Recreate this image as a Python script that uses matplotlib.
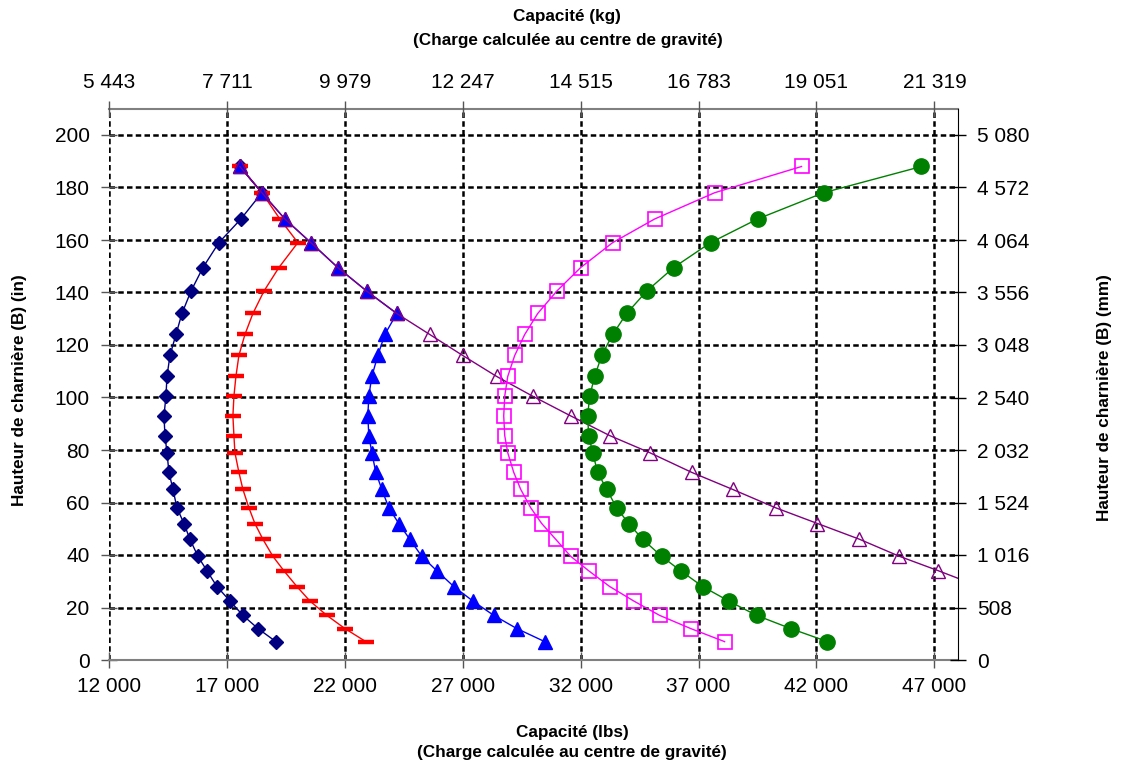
import matplotlib.pyplot as plt
import numpy as np

plt.rcParams["font.family"] = ["Liberation Sans", "DejaVu Sans"]

# hinge height (in), same for every curve
hauteur = [7, 12, 17, 22.5, 28, 34, 39.5, 46, 52, 58, 65, 71.5, 79, 85.5, 93,
           100.5, 108, 116, 124, 132, 140.5, 149.5, 159, 168, 178, 188]

# capacities (lbs) per curve, bottom to top
cap_navy = [19076, 18314, 17678, 17127, 16576, 16153, 15771, 15432, 15178, 14881,
            14712, 14542, 14458, 14373, 14331, 14415, 14458, 14585, 14839, 15093,
            15475, 15983, 16661, 17593, 18483, 17551]
cap_red = [22890, 22000, 21237, 20517, 19966, 19415, 18949, 18525, 18186, 17932,
           17678, 17508, 17339, 17297, 17254, 17297, 17381, 17508, 17763, 18102,
           18568, 19203, 20008, 19246, 18483, 17551]
cap_blue = [30475, 29288, 28314, 27424, 26619, 25898, 25263, 24754, 24288, 23864,
            23568, 23314, 23144, 23017, 22975, 23017, 23144, 23398, 23695, 24203,
            22932, 21703, 20559, 19458, 18483, 17551]
# purple curve runs off the right edge below ~31 in
haut_purple = [28, 34, 39.5, 46, 52, 58, 65, 71.5, 79, 85.5, 93, 100.5, 108, 116,
               124, 132, 140.5, 149.5, 159, 168, 178, 188]
cap_purple = [48900, 47169, 45517, 43822, 42042, 40263, 38441, 36703, 34924, 33229,
              31576, 29966, 28441, 27000, 25602, 24203, 22932, 21703, 20559, 19458,
              18483, 17551]
cap_magenta = [38102, 36661, 35347, 34246, 33229, 32339, 31576, 30941, 30347, 29881,
               29458, 29161, 28907, 28780, 28737, 28780, 28907, 29203, 29627, 30178,
               30983, 32000, 33356, 35136, 37678, 41364]
cap_green = [42466, 40898, 39458, 38271, 37170, 36237, 35432, 34627, 34034, 33525,
             33102, 32720, 32508, 32339, 32297, 32381, 32593, 32890, 33356, 33949,
             34797, 35941, 37509, 39500, 42297, 46449]

lbs_ticks = [12000, 17000, 22000, 27000, 32000, 37000, 42000, 47000]
lbs_labels = ["12 000", "17 000", "22 000", "27 000", "32 000", "37 000", "42 000", "47 000"]
kg_labels = ["5 443", "7 711", "9 979", "12 247", "14 515", "16 783", "19 051", "21 319"]
in_ticks = list(range(0, 201, 20))
mm_ticks = [0, 508, 1016, 1524, 2032, 2540, 3048, 3556, 4064, 4572, 5080]
mm_labels = ["0", "508", "1 016", "1 524", "2 032", "2 540", "3 048", "3 556",
             "4 064", "4 572", "5 080"]

W, H = 1128, 761
fig = plt.figure(figsize=(W / 100, H / 100), dpi=100)
# plot box runs up to the kg axis line; 200 in sits 26 px below it
ax = fig.add_axes([109 / W, 101 / H, 849 / W, 551 / H])
ytop = 200 * 551 / 525

lw = 1.0
ax.plot(cap_navy, hauteur, color="#000080", lw=lw, marker="D", ms=7.5, zorder=3)
ax.plot(cap_red, hauteur, color="#FF0000", lw=lw, marker="_", ms=11, mew=3.2, zorder=3)
ax.plot(cap_blue, hauteur, color="#0000FF", lw=lw, marker="^", ms=10, zorder=3)
ax.plot(cap_purple, haut_purple, color="#800080", lw=lw, marker="^", ms=10,
        mfc="none", mew=1, zorder=3)
ax.plot(cap_magenta, hauteur, color="#FF00FF", lw=lw, marker="s", ms=10.5,
        mfc="none", mew=1.2, zorder=3)
ax.plot(cap_green, hauteur, color="#008000", lw=lw, marker="o", ms=11, zorder=3)

ax.set_xlim(12000, 48000)
ax.set_ylim(0, ytop)
ax.set_xticks(lbs_ticks)
ax.set_xticklabels(lbs_labels)
ax.set_yticks(in_ticks)
ax.grid(True, color="black", lw=1.8, ls=(0, (2.2, 1.3)))
ax.set_axisbelow(True)
for s in ["left", "right"]:
    ax.spines[s].set_visible(False)
for s in ["bottom", "top"]:
    ax.spines[s].set_color("#808080")
    ax.spines[s].set_linewidth(1.5)
ax.tick_params(axis="both", labelsize=15, direction="inout", length=12, width=1,
               color="#555555")
ax.tick_params(axis="x", pad=6)
ax.tick_params(axis="y", pad=8)

# top axis in kg
ax_top = ax.twiny()
ax_top.set_xlim(ax.get_xlim())
ax_top.set_xticks(lbs_ticks)
ax_top.set_xticklabels(kg_labels)
for s in ax_top.spines.values():
    s.set_visible(False)
ax_top.tick_params(axis="x", labelsize=15, direction="inout", length=12, width=1,
                   color="#555555", pad=6)

# right axis in mm
ax_r = ax.twinx()
ax_r.set_ylim(0, ytop * 25.4)
ax_r.set_yticks(mm_ticks)
ax_r.set_yticklabels(mm_labels)
for s in ["bottom", "left", "top"]:
    ax_r.spines[s].set_visible(False)
ax_r.spines["right"].set_color("black")
ax_r.tick_params(axis="y", labelsize=15, direction="inout", length=12, width=1,
                 pad=8)

lab = dict(fontsize=12.3, fontweight="bold", ha="center", va="center")
fig.text(0.503, 1 - 17 / H, "Capacité (kg)", **lab)
fig.text(0.503, 1 - 40 / H, "(Charge calculée au centre de gravité)", **lab)
fig.text(0.507, 1 - 733 / H, "Capacité (lbs)", **lab)
fig.text(0.507, 1 - 753 / H, "(Charge calculée au centre de gravité)", **lab)
fig.text(20 / W, 1 - 390 / H, "Hauteur de charnière (B) (in)", rotation=90, **lab)
fig.text(1105 / W, 1 - 398 / H, "Hauteur de charnière (B) (mm)", rotation=90, **lab)

fig.savefig("out.png", dpi=100)
